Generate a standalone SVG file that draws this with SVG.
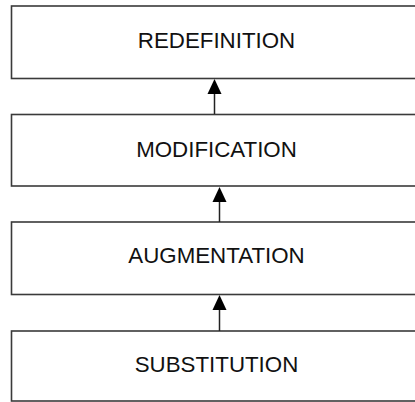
<svg xmlns="http://www.w3.org/2000/svg" width="415" height="402" viewBox="0 0 415 402">
<style>
.box{fill:#fff;stroke:#3a3a3a;stroke-width:1.6}
.lbl{font-family:"Liberation Sans",Arial,sans-serif;font-size:22.3px;fill:#111;text-anchor:middle}
.con{stroke:#222;stroke-width:1.5;fill:none}
.head{fill:#000}
</style>
<rect width="415" height="402" fill="#fff"/>
<g id="redefinition"><rect class="box" x="11.5" y="6" width="420" height="72.5"/><text class="lbl" x="216.5" y="48">REDEFINITION</text></g>
<g id="modification"><rect class="box" x="11.5" y="114.5" width="420" height="71.5"/><text class="lbl" x="216.5" y="157">MODIFICATION</text></g>
<g id="augmentation"><rect class="box" x="11.5" y="222" width="420" height="72.5"/><text class="lbl" x="216.5" y="263">AUGMENTATION</text></g>
<g id="substitution"><rect class="box" x="11.5" y="331" width="420" height="70"/><text class="lbl" x="216.5" y="372">SUBSTITUTION</text></g>
<g id="connectors">
<line class="con" x1="214.5" y1="114" x2="214.5" y2="92"/><polygon class="head" points="214.5,79 207.5,94 221.5,94"/>
<line class="con" x1="219.5" y1="222" x2="219.5" y2="200"/><polygon class="head" points="219.5,187 212.5,202 226.5,202"/>
<line class="con" x1="219.5" y1="331" x2="219.5" y2="308"/><polygon class="head" points="219.5,295 212.5,310 226.5,310"/>
</g>
</svg>
